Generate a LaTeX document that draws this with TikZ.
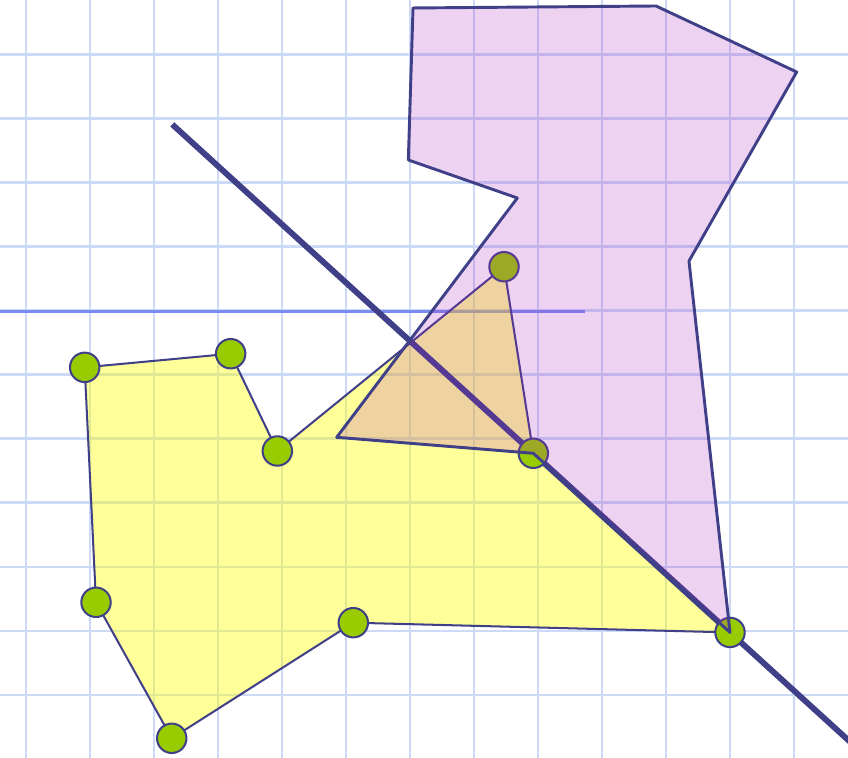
\documentclass[tikz,border=0pt]{standalone}
\definecolor{gbgrid}{HTML}{CCDAF8}
\definecolor{gbedge}{HTML}{404088}
\definecolor{gbgreen}{HTML}{99CC00}
\definecolor{gbyellow}{HTML}{FFFF00}
\definecolor{gbpurple}{HTML}{AA1EBE}
\definecolor{gbblue}{HTML}{7B8CF0}
\usetikzlibrary{calc}

\begin{document}
\begin{tikzpicture}[
  gridline/.style={draw=gbgrid, line width=0.9pt},
  ypoly/.style={draw=gbedge, line width=0.9pt, line join=round,
                fill=gbyellow, fill opacity=0.4},
  ppoly/.style={draw=gbedge, line width=1.3pt, line join=round,
                fill=gbpurple, fill opacity=0.2},
  dot/.style={circle, draw=gbedge, fill=gbgreen, line width=0.9pt,
              minimum size=0.46cm, inner sep=0pt},
  cutline/.style={draw=gbedge, line width=2.6pt},
  hline/.style={draw=gbblue, line width=1.4pt},
]
  \useasboundingbox (-0.40625,-10.977) rectangle (12.84375,0.8516);
  \clip (-0.40625,-10.977) rectangle (12.84375,0.8516);

  % Grid
  \draw[gridline] (-1,-12) grid (13,1);

  % Vertices of the yellow polygon
  \coordinate (a) at (0.917,-4.888);
  \coordinate (b) at (3.198,-4.675);
  \coordinate (c) at (3.927,-6.195);
  \coordinate (d) at (7.469,-3.316);
  \coordinate (e) at (7.927,-6.231);
  \coordinate (f) at (11.0,-9.03);
  \coordinate (g) at (5.114,-8.878);
  \coordinate (h) at (2.277,-10.684);
  \coordinate (i) at (1.094,-8.559);

  % Vertices of the purple polygon
  \coordinate (p1) at (6.047,0.727);
  \coordinate (p2) at (9.844,0.758);
  \coordinate (p3) at (12.042,-0.273);
  \coordinate (p4) at (10.359,-3.227);
  \coordinate (p7) at (4.855,-5.981);
  \coordinate (p8) at (7.677,-2.242);
  \coordinate (p9) at (5.974,-1.648);

  % Horizontal line
  \coordinate (hl1) at (-0.5,-4.02);
  \coordinate (hl2) at (8.734,-4.02);
  \draw[hline] (hl1) -- (hl2);

  % Yellow polygon
  \filldraw[ypoly] (a) -- (b) -- (c) -- (d) -- (e) -- (f) -- (g) -- (h) -- (i) -- cycle;

  % Cutting line through e and f
  \coordinate (cut1) at ($(f)!2.836!(e)$);
  \coordinate (cut2) at ($(e)!2.0!(f)$);
  \draw[cutline] (cut1) -- (cut2);

  % Points
  \foreach \v in {a,b,c,d,e,f,g,h,i}
    \node[dot] (dot-\v) at (\v) {};

  % Purple polygon
  \filldraw[ppoly] (p1) -- (p2) -- (p3) -- (p4) -- (f) -- (e) -- (p7) -- (p8) -- (p9) -- cycle;
\end{tikzpicture}
\end{document}
